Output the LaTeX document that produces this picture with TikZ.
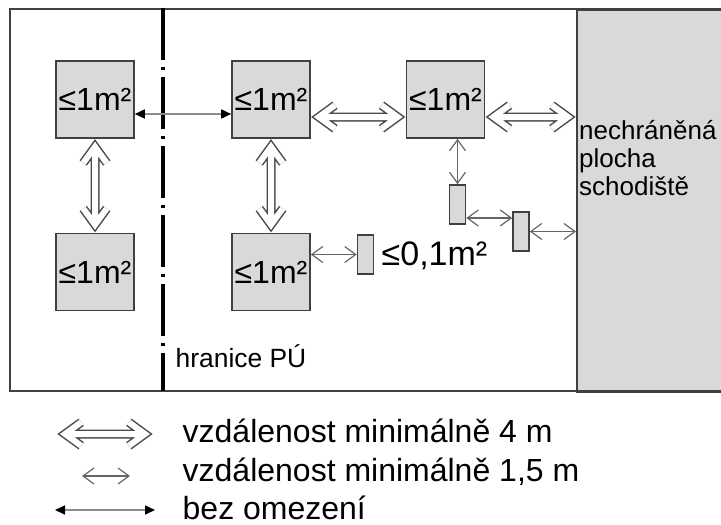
\documentclass[tikz,border=0pt]{standalone}
\usepackage{fontspec}
\setmainfont{Liberation Sans}
\usetikzlibrary{arrows.meta,calc}

\begin{document}
\begin{tikzpicture}[x=0.5pt,y=-0.5pt,line width=0.7pt,
  box/.style={draw=black!75,fill=black!15,line width=0.8pt,inner sep=0pt,
    minimum width=39pt,minimum height=38.5pt,font=\fontsize{16}{19}\selectfont},
  tiny/.style={draw=black!75,fill=black!15,line width=0.8pt,inner sep=0pt,
    minimum width=8pt,minimum height=19.5pt},
  wide/.style={draw=black!70,double=white,double distance=3pt,line width=0.75pt,
    line join=miter,line cap=butt},
  near/.style={draw=black!60,line width=0.6pt,
    {Straight Barb[length=5.5pt,width=8pt]}-{Straight Barb[length=5.5pt,width=8pt]}},
  free/.style={draw=black!45,line width=0.8pt,
    {Triangle[length=5pt,width=4.5pt,color=black]}-{Triangle[length=5pt,width=4.5pt,color=black]}},
  lbl/.style={anchor=base west,inner sep=0pt}]
% duta dvojita sipka mezi #1 a #2 (vzdalenost 4 m)
\newcommand{\widearrow}[2]{\draw[wide] ($(#1)!4pt!(#2)$) coordinate (wa)
  ($(#2)!4pt!(#1)$) coordinate (wb)
  ($(wa)!10pt!36:(#2)$) -- (wa) -- ($(wa)!10pt!-36:(#2)$)
  ($(wb)!10pt!36:(#1)$) -- (wb) -- ($(wb)!10pt!-36:(#1)$)
  (wa) -- (wb);}
\useasboundingbox (0,0) rectangle (721,524);
% ---------- schodiste a ramecek ----------
\node[draw=black!75,fill=black!15,line width=1pt,inner sep=0pt,anchor=north west,
  minimum width=72.5pt,minimum height=191pt] (stair) at (576,9) {};
\draw[black!75,line width=1pt] (721,9) -- (10,9) -- (10,391) -- (721,391);
\foreach \t [count=\i] in {nechráněná,plocha,schodiště}
  \node[lbl,font=\fontsize{13}{15}\selectfont] (txt\i) at (578.5,111+28*\i) {\t};
% hranice PU
\draw[line width=1.75pt,dash pattern=on 26pt off 3.5pt on 1.5pt off 3.5pt] (163,8) -- (163,391);
\node[lbl,font=\fontsize{13.2}{15}\selectfont] (border) at (175,367) {hranice PÚ};
% ---------- plochy ----------
\node[box] (A) at (95,99.5) {≤1m²};
\node[box] (B) at (271,99.5) {≤1m²};
\node[box] (C) at (445.5,99.5) {≤1m²};
\node[box] (D) at (95,272) {≤1m²};
\node[box] (E) at (271,272) {≤1m²};
\node[tiny] (R1) at (457.5,204.5) {};
\node[tiny] (R2) at (521,231.5) {};
\node[tiny] (R3) at (365.5,254.5) {};
\node[lbl,font=\fontsize{17}{20}\selectfont] (small) at (381,265) {≤0,1m²};
% ---------- vzdalenosti ----------
\draw[free] ([yshift=-7.25pt]A.east) -- ([yshift=-7.25pt]B.west);
\widearrow{A.south}{D.north}
\widearrow{B.south}{E.north}
\coordinate (bc1) at ([yshift=-8.75pt]B.east);
\coordinate (bc2) at (bc1 -| C.west);
\widearrow{bc1}{bc2}
\coordinate (c1) at ([yshift=-8.75pt]C.east);
\coordinate (c2) at (c1 -| stair.west);
\widearrow{c1}{c2}
\draw[near] (R1.north |- C.south) -- (R1.north);
\coordinate (r12) at ($(R1.east)!0.5!(R2.west)$);
\draw[near] (R1.east |- r12) -- (R2.west |- r12);
\draw[near] (R2.east) -- (R2.east -| stair.west);
\draw[near] (E.east |- R3.west) -- (R3.west);
% ---------- legenda ----------
\coordinate (l1a) at (57,434);  \coordinate (l1b) at (153,434);
\coordinate (l2a) at (82,476);  \coordinate (l2b) at (130,476);
\coordinate (l3a) at (55,510);  \coordinate (l3b) at (155,510);
\widearrow{l1a}{l1b}
\draw[near] (l2a) -- (l2b);
\draw[free] (l3a) -- (l3b);
\node[lbl,font=\fontsize{16}{19}\selectfont] (leg1) at (182,442) {vzdálenost minimálně 4 m};
\node[lbl,font=\fontsize{16}{19}\selectfont] (leg2) at (182,481) {vzdálenost minimálně 1,5 m};
\node[lbl,font=\fontsize{16}{19}\selectfont] (leg3) at (182,519) {bez omezení};
\end{tikzpicture}
\end{document}
